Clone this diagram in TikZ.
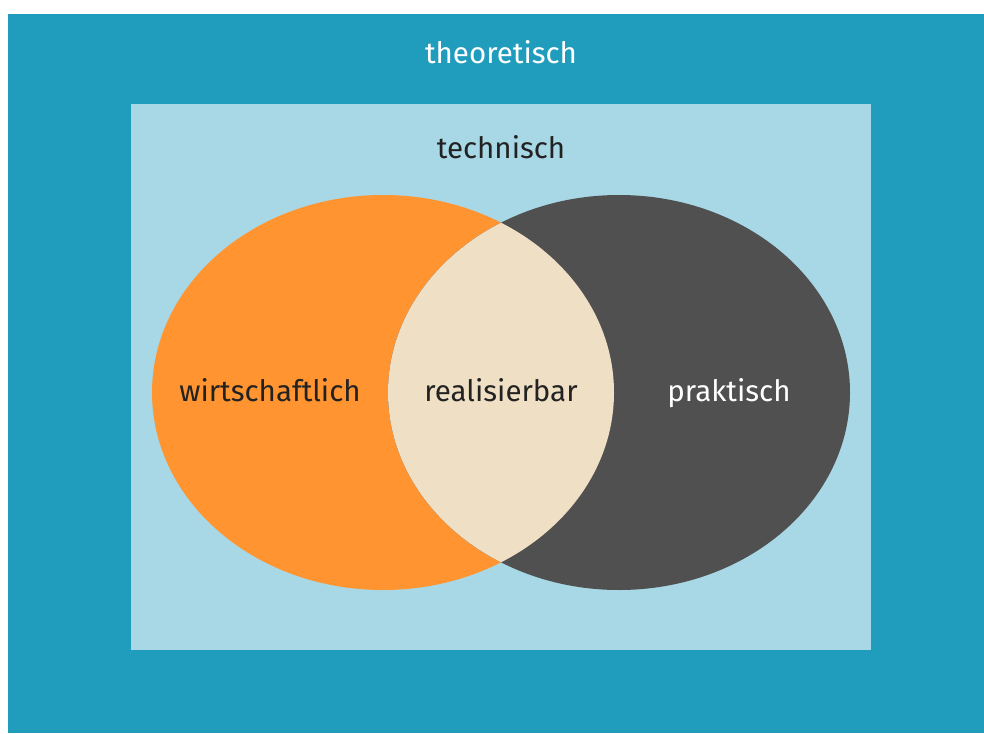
\documentclass[tikz,border=0pt]{standalone}
\usepackage{fontspec}
\setmainfont{Fira Sans}
\usepackage{tikz}
\definecolor{deepblue}{HTML}{209CBD}
\definecolor{lightblue}{HTML}{A8D8E5}
\definecolor{orange}{HTML}{FF9430}
\definecolor{darkgrey}{HTML}{505050}
\definecolor{cream}{HTML}{EFDFC4}
\definecolor{ink}{HTML}{222222}

\begin{document}
\begin{tikzpicture}[
  x=1pt, y=-1pt,
  label/.style={font=\fontsize{29.5}{34}\selectfont, text=ink, inner sep=0pt, anchor=base}
]
\useasboundingbox (0,0) rectangle (984,733);
% areas
\fill[deepblue] (8,14) rectangle (984,733);
\fill[lightblue] (131,104) rectangle (871,650);
\fill[orange] (383,392.5) ellipse [x radius=231, y radius=197.5];
\fill[darkgrey] (619,392.5) ellipse [x radius=231, y radius=197.5];
\begin{scope}
  \clip (383,392.5) ellipse [x radius=231, y radius=197.5];
  \fill[cream] (619,392.5) ellipse [x radius=231, y radius=197.5];
\end{scope}
% texts
\node[label, text=white] (theo) at (501,64) {theoretisch};
\node[label] (tech) at (501,158) {technisch};
\node[label] (wirt) at (270,401) {wirtschaftlich};
\node[label] (real) at (501,401) {realisierbar};
\node[label, text=white] (prak) at (729,401) {praktisch};
\end{tikzpicture}
\end{document}
